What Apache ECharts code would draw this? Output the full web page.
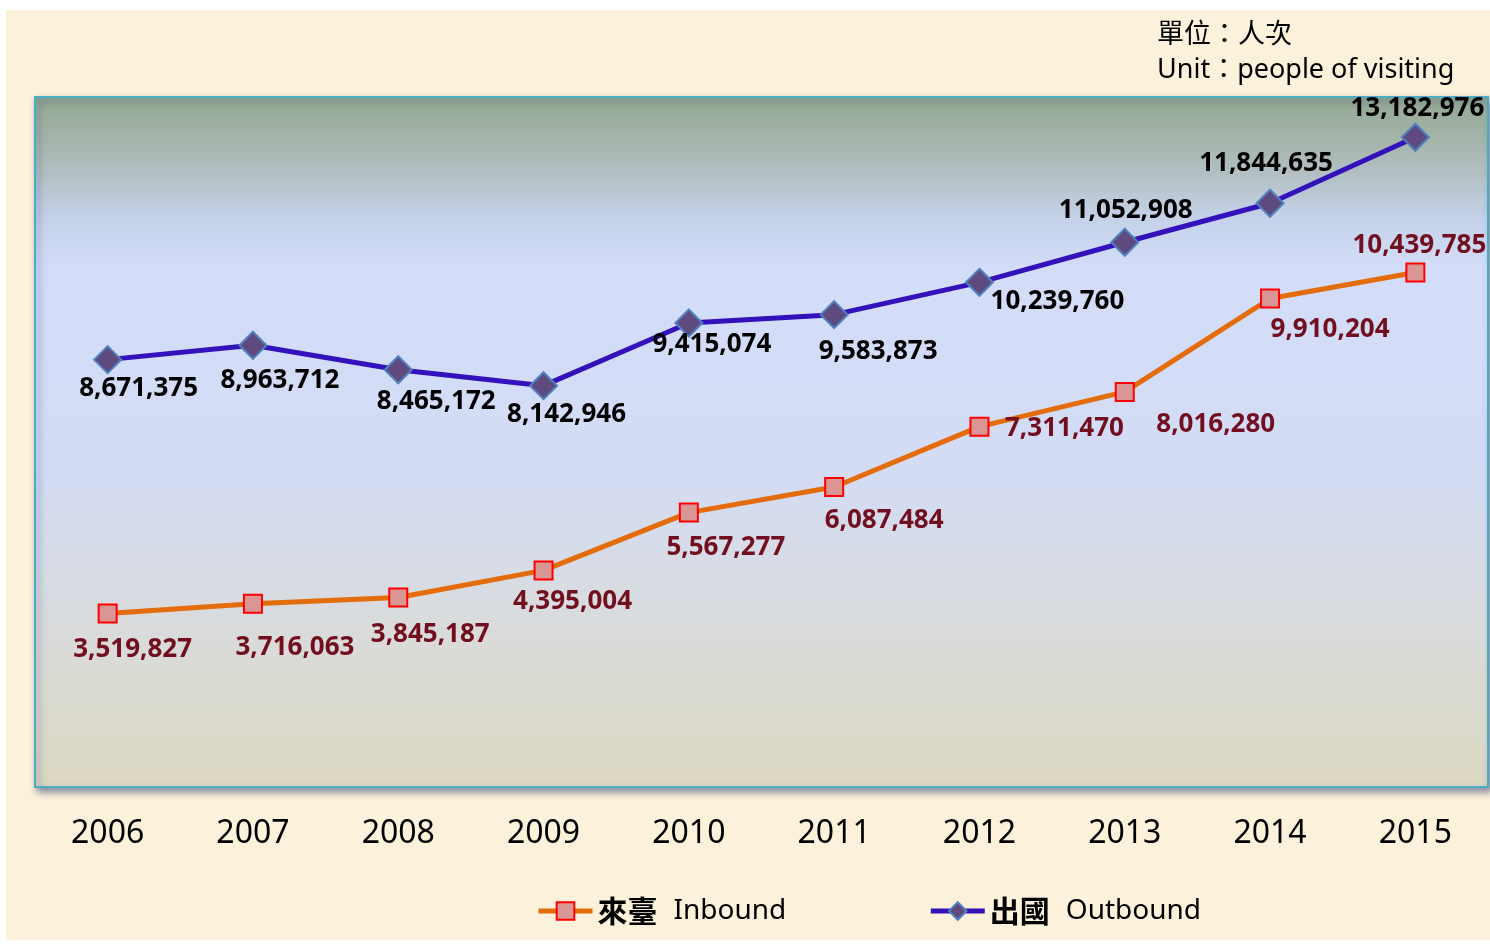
<!DOCTYPE html>
<html>
<head>
<meta charset="utf-8">
<title>來臺 / 出國 人次</title>
<script src="https://cdn.jsdelivr.net/npm/echarts@6/dist/echarts.min.js"></script>
<style>
html, body { margin: 0; padding: 0; background: #fff; }
/* beige paper behind the chart, white edge at top and left */
#chart {
	width: 1490px; height: 944px;
	background: linear-gradient(#fcf1da, #fcf1da) 6px 10px / 1484px 930px no-repeat, #fff;
}
</style>
</head>
<body>
<div id="chart"></div>
<script>
// 資料
var years = ['2006', '2007', '2008', '2009', '2010', '2011', '2012', '2013', '2014', '2015'];
var inbound = [3519827, 3716063, 3845187, 4395004, 5567277, 6087484, 7311470, 8016280, 9910204, 10439785];
var outbound = [8671375, 8963712, 8465172, 8142946, 9415074, 9583873, 10239760, 11052908, 11844635, 13182976];
var seriesCn = ['來臺', '出國'];
var seriesEn = ['Inbound', 'Outbound'];

// 標籤位移 (px, 相對於點)
var inboundLabelOffset = [[25, 36], [42, 44], [32, 37], [29, 31], [37, 35], [50, 34], [85, 2], [91, 33], [60, 31], [4, -27]];
var outboundLabelOffset = [[31, 29], [27, 35], [38, 32], [23, 29], [23, 22], [44, 37], [78, 19], [1, -32], [-4, -40], [2, -29]];

var FONT = '"Noto Sans", "Noto Sans CJK TC", sans-serif';

function fmt(v) {
	return String(v).replace(/\B(?=(\d{3})+(?!\d))/g, ',');
}

function buildData(values, offsets) {
	var out = [];
	for (var i = 0; i < values.length; i++) {
		out.push({
			value: values[i],
			label: { offset: offsets[i] }
		});
	}
	return out;
}

var chart = echarts.init(document.getElementById('chart'));

var option = {
	animation: false,
	grid: {
		show: true,
		left: 35,
		right: 2,
		top: 97,
		bottom: 157,
		borderColor: '#4bacc6',
		borderWidth: 2,
		shadowColor: 'rgba(50, 70, 120, 0.6)',
		shadowBlur: 7,
		shadowOffsetX: 3,
		shadowOffsetY: 4,
		backgroundColor: new echarts.graphic.LinearGradient(0, 0, 0, 1, [
			{ offset: 0, color: '#93a890' },
			{ offset: 0.08, color: '#a9b8b2' },
			{ offset: 0.18, color: '#c6d2ea' },
			{ offset: 0.25, color: '#d3ddf9' },
			{ offset: 0.55, color: '#d4dcf4' },
			{ offset: 0.8, color: '#dadbd8' },
			{ offset: 1, color: '#dcd8c2' }
		])
	},
	xAxis: {
		type: 'category',
		data: years,
		boundaryGap: true,
		axisLine: { show: false },
		axisTick: { show: false },
		axisLabel: {
			margin: 31,
			fontSize: 32,
			color: '#000',
			fontFamily: FONT
		}
	},
	yAxis: {
		type: 'value',
		min: 0,
		max: 14000000,
		interval: 2000000,
		axisLine: { show: false },
		axisTick: { show: false },
		axisLabel: { show: false },
		splitLine: { show: false }
	},
	legend: {
		top: 891,
		left: 531,
		itemWidth: 54,
		itemHeight: 22,
		itemGap: 142,
		data: seriesCn,
		lineStyle: { width: 5 },
		formatter: function(name) {
			return '{cn|' + name + '}{en|' + seriesEn[seriesCn.indexOf(name)] + '}';
		},
		textStyle: {
			rich: {
				cn: { fontSize: 30, fontWeight: 'bold', color: '#000', fontFamily: '"Noto Sans CJK TC", sans-serif' },
				en: { fontSize: 28, color: '#000', fontFamily: FONT, padding: [0, 0, 0, 16] }
			}
		}
	},
	graphic: [{
		type: 'text',
		left: 1157,
		top: 18,
		style: {
			text: '單位：人次\nUnit：people of visiting',
			font: '27px ' + FONT,
			lineHeight: 35,
			fill: '#000'
		}
	}],
	series: [{
		name: seriesCn[0],
		type: 'line',
		data: buildData(inbound, inboundLabelOffset),
		symbol: 'rect',
		symbolSize: 18,
		lineStyle: { color: '#e46c0a', width: 5 },
		itemStyle: { color: '#d99694', borderColor: '#ff0000', borderWidth: 2 },
		label: {
			show: true,
			position: 'inside',
			formatter: function(p) { return fmt(p.value); },
			fontSize: 26,
			fontWeight: 'bold',
			color: '#720f1f',
			fontFamily: FONT
		},
		z: 3
	}, {
		name: seriesCn[1],
		type: 'line',
		data: buildData(outbound, outboundLabelOffset),
		symbol: 'diamond',
		symbolSize: 27,
		lineStyle: { color: '#3311bb', width: 5 },
		itemStyle: { color: '#5f4a80', borderColor: '#4f81bd', borderWidth: 2 },
		label: {
			show: true,
			position: 'inside',
			formatter: function(p) { return fmt(p.value); },
			fontSize: 26,
			fontWeight: 'bold',
			color: '#000',
			fontFamily: FONT
		},
		z: 4
	}]
};

chart.setOption(option);
</script>
</body>
</html>
